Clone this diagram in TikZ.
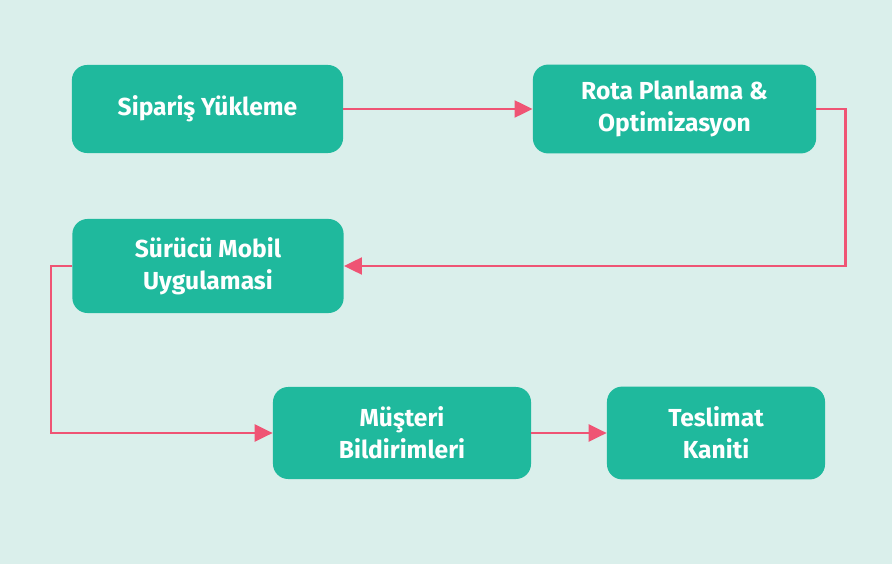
\documentclass[tikz,border=0pt]{standalone}
\usepackage{fontspec}
\setmainfont{Fira Sans}
\usetikzlibrary{arrows.meta}
\definecolor{bgmint}{HTML}{DAEFEB}
\definecolor{boxteal}{HTML}{1FB99D}
\definecolor{linkpink}{HTML}{EF5474}
\begin{document}
\begin{tikzpicture}[x=0.025cm,y=-0.025cm,
	stage/.style={fill=boxteal, rounded corners=0.38cm, inner sep=0pt, align=center, text=white,
		font=\bfseries\fontsize{17.5}{22.5}\selectfont},
	link/.style={linkpink, line width=2pt, -{Triangle[length=0.45cm,width=0.42cm]}}]
	\fill[bgmint] (0,0) rectangle (892,564);
	\useasboundingbox (0,0) rectangle (892,564);
	\node (sip) [stage, minimum width=6.78cm, minimum height=2.2cm] at (207.5,109) {Sipariş Yükleme};
	\node (rota) [stage, minimum width=7.08cm, minimum height=2.22cm] at (674.5,109) {Rota Planlama \&\\Optimizasyon};
	\node (surucu) [stage, minimum width=6.78cm, minimum height=2.35cm] at (208,266) {Sürücü Mobil\\Uygulamasi};
	\node (musteri) [stage, minimum width=6.45cm, minimum height=2.3cm] at (402,433) {Müşteri\\Bildirimleri};
	\node (teslimat) [stage, minimum width=5.45cm, minimum height=2.32cm] at (716,433) {Teslimat\\Kaniti};
	\path[link]
		(sip) edge (rota)
		(musteri) edge (teslimat);
	\draw[link] (rota.east) -- ++(29,0) |- (surucu.east);
	\draw[link] (surucu.west) -- ++(-21,0) |- (musteri.west);
\end{tikzpicture}
\end{document}
